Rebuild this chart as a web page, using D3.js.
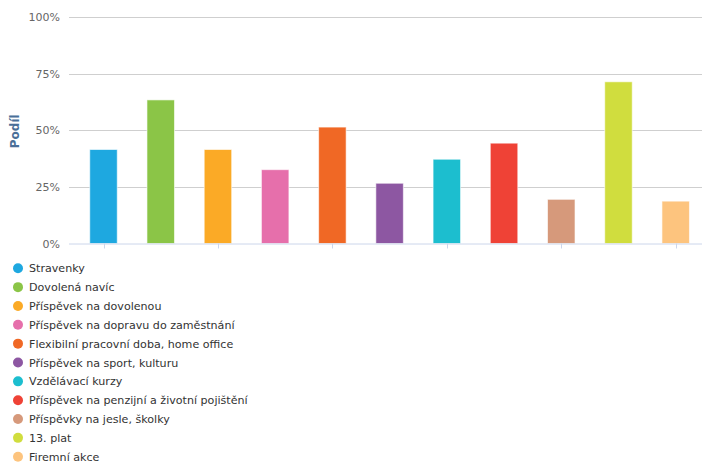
<!DOCTYPE html>
<html>
<head>
<meta charset="utf-8">
<script src="https://cdn.jsdelivr.net/npm/d3@7"></script>
<style>
  body { margin: 0; background: #fff; }
  svg { display: block; font-family: "DejaVu Sans", sans-serif; }
</style>
</head>
<body>
<svg id="chart" width="702" height="464"></svg>
<script>
const categories = [
  "Stravenky",
  "Dovolená navíc",
  "Příspěvek na dovolenou",
  "Příspěvek na dopravu do zaměstnání",
  "Flexibilní pracovní doba, home office",
  "Příspěvek na sport, kulturu",
  "Vzdělávací kurzy",
  "Příspěvek na penzijní a životní pojištění",
  "Příspěvky na jesle, školky",
  "13. plat",
  "Firemní akce"
]
const values = [41.5, 63.4, 41.5, 32.6, 51.4, 26.6, 37.2, 44.3, 19.5, 71.4, 18.7]
const colors = [
  "#1ea8e0", "#8bc547", "#fbaa26", "#e66fab", "#f06825", "#8d57a2",
  "#1cbecf", "#ef4236", "#d6997b", "#d0dd3e", "#fdc47e"
]
const yTicks = [0, 25, 50, 75, 100]

const svg = d3.select("#chart")
const plot = { left: 69, right: 702, top: 17, bottom: 243.5 }

const y = d3.scaleLinear().domain([0, 100]).range([plot.bottom, plot.top])
const x = d3.scaleLinear().domain([0, categories.length - 1]).range([103.5, 675.7])
const barWidth = 27.5

// gridlines
svg.append("g")
  .selectAll("line")
  .data(yTicks.filter(d => d > 0))
  .enter().append("line")
  .attr("x1", plot.left)
  .attr("x2", plot.right)
  .attr("y1", d => Math.round(y(d)) + 0.5)
  .attr("y2", d => Math.round(y(d)) + 0.5)
  .attr("stroke", "#cfcfcf")
  .attr("stroke-width", 1)

// y labels
const yAxis = d3.axisLeft(y).tickValues(yTicks).tickFormat(d => d + "%").tickSize(0).tickPadding(0)
const yg = svg.append("g").attr("transform", `translate(${plot.left - 9},0)`).call(yAxis)
yg.select(".domain").remove()
yg.selectAll("text")
  .attr("fill", "#666")
  .attr("font-size", 11)
  .attr("font-family", "DejaVu Sans, sans-serif")

// axis title
svg.append("text")
  .attr("transform", `translate(19,${(plot.top + plot.bottom) / 2 + 1}) rotate(-90)`)
  .attr("text-anchor", "middle")
  .attr("font-size", 12)
  .attr("font-weight", "bold")
  .attr("fill", "#4a6f98")
  .text("Podíl")

// bars
svg.append("g")
  .selectAll("rect")
  .data(values)
  .enter().append("rect")
  .attr("x", (d, i) => x(i) - barWidth / 2)
  .attr("y", d => y(d))
  .attr("width", barWidth)
  .attr("height", d => plot.bottom - y(d))
  .attr("fill", (d, i) => colors[i])
  .attr("stroke", "#fff")
  .attr("stroke-opacity", 0.6)
  .attr("stroke-width", 1)

// x axis baseline and ticks
svg.append("line")
  .attr("x1", plot.left)
  .attr("x2", plot.right)
  .attr("y1", plot.bottom + 0.5)
  .attr("y2", plot.bottom + 0.5)
  .attr("stroke", "#ccd6eb")

svg.append("g")
  .selectAll("line")
  .data(d3.range(0, categories.length, 2))
  .enter().append("line")
  .attr("x1", d => Math.round(x(d)) + 0.5)
  .attr("x2", d => Math.round(x(d)) + 0.5)
  .attr("y1", plot.bottom)
  .attr("y2", plot.bottom + 5)
  .attr("stroke", "#ccd6eb")

// legend
const legend = svg.append("g")
  .selectAll("g")
  .data(categories)
  .enter().append("g")
  .attr("transform", (d, i) => `translate(18,${268.3 + i * 18.84})`)

legend.append("circle")
  .attr("r", 5)
  .attr("fill", (d, i) => colors[i])

legend.append("text")
  .attr("x", 11)
  .attr("y", 4)
  .attr("font-size", 11.1)
  .attr("fill", "#333")
  .text(d => d)
</script>
</body>
</html>
